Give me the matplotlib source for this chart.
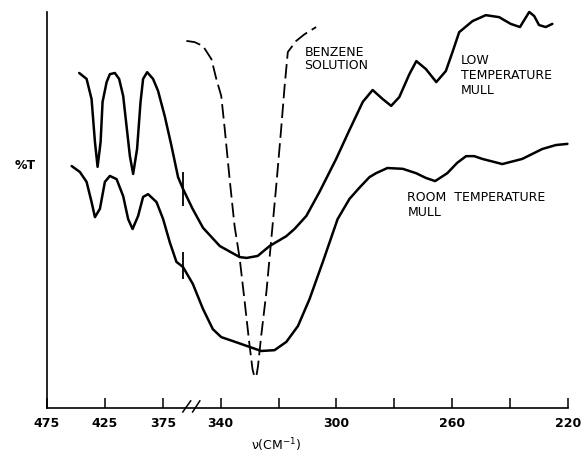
import numpy as np
import matplotlib
matplotlib.use("Agg")
import matplotlib.pyplot as plt
import matplotlib.transforms as mtransforms

# --- data (wavenumber cm^-1, %T in arbitrary 0-100 units) ---
low_w = [447.2, 440.8, 436.5, 433.6, 431.3, 428.7, 427, 423.5, 420.7, 416.4,
         412.7, 409.2, 406.3, 403.4, 400.6, 397.2, 394.2, 392, 388.5, 383.4,
         379.1, 373.3, 367.5, 361.8, 357.5, 349.7, 346.1, 340.3, 333.4, 331,
         327.2, 323.1, 317.3, 314.5, 310.4, 305.9, 300.1, 295.5, 290.9, 287.5,
         284, 281.1, 278.3, 274.8, 272.4, 269.1, 265.5, 262.2, 259.9, 257.6,
         253, 248.4, 243.8, 239.8, 236.6, 233.4, 231.7, 230, 227.7, 225.4]
low_t = [84.6, 83.1, 78, 67.2, 60.9, 67.2, 77.3, 82.3, 84.3, 84.6,
         83.1, 78.8, 71.2, 63.6, 59.1, 65.4, 77.3, 83.1, 84.8, 83.1,
         80.1, 73.7, 66.2, 58.3, 55.3, 50.3, 45.5, 40.9, 38.1, 37.9,
         38.4, 40.9, 43.4, 45.2, 48.5, 54.5, 62.9, 70.2, 77.3, 80.3,
         78, 76.3, 78.5, 84.3, 87.6, 85.6, 82.3, 85.1, 89.9, 94.9,
         97.7, 99.2, 98.7, 97, 96.2, 100, 99, 96.7, 96.2, 97]

room_w = [453.7, 446.6, 440.8, 436.5, 433.6, 429.3, 425, 420.7, 414.9, 409.2,
          404.9, 401.1, 396.3, 392, 387.7, 380.4, 374.7, 369, 363.2, 357.5,
          349.6, 346.1, 342.7, 339.8, 335.8, 331.1, 326, 321.4, 317.3, 313.3,
          309.3, 304.7, 299.6, 295.5, 292.1, 288.6, 286.3, 282.4, 277.1, 272.5,
          269.1, 265.9, 261.7, 258.3, 255.2, 252.4, 249.6, 242.7, 235.8, 228.9,
          224.2, 220.2]
room_t = [61.1, 59.6, 57.1, 52, 48.2, 50.3, 57.1, 58.6, 57.8, 53.5,
          47.7, 45.2, 48.5, 53.3, 54, 52, 47.7, 41.9, 36.9, 35.6,
          31.3, 25, 19.9, 17.9, 16.9, 15.7, 14.4, 14.6, 16.7, 20.7,
          27.5, 36.9, 47.7, 52.8, 55.6, 58.3, 59.3, 60.6, 60.4, 59.3,
          58.1, 57.3, 59.3, 61.9, 63.6, 63.6, 62.9, 61.6, 62.9, 65.4,
          66.4, 66.7]

benz_w = [354.6, 349, 346.1, 343.2, 341.5, 339.8, 338.6, 336.9, 335.2, 333.4,
          331.7, 330, 329, 328.3, 327.6, 327.1, 326, 324.2, 322.5, 320.8,
          319.1, 317.9, 316.8, 313.9, 311, 307]
benz_t = [92.7, 92.4, 91.4, 88.1, 83.1, 78.8, 70.5, 57.8, 46, 37.6,
          26.8, 15.7, 9.8, 7.8, 8.3, 10.6, 18.2, 29.3, 42.7, 56.1,
          70.5, 81.3, 89.9, 92.7, 94.4, 96.2]

# break marks drawn across the two mull curves
break_w = 357.5
break_lo = [51.0, 32.6]
break_hi = [59.6, 39.3]

major_ticks = [475, 425, 375, 340, 300, 260, 220]
minor_ticks = [320, 280, 240]


# piecewise axis: 475-350 compressed, 350-220 expanded (broken axis)
def forward(w):
    w = np.asarray(w, float)
    return -np.where(w >= 350, (475 - w) * 1.16, 145 + (350 - w) * 2.9)


def inverse(p):
    p = -np.asarray(p, float)
    return np.where(p <= 145, 475 - p / 1.16, 350 - (p - 145) / 2.9)


plt.rcParams['font.family'] = ['DejaVu Sans']

fig = plt.figure(figsize=(5.81, 4.52), dpi=100)
ax = fig.add_axes([47 / 581, 43 / 452, 521 / 581, 396 / 452])
ax.set_xscale('function', functions=(forward, inverse))
ax.set_xlim(475, 220)
ax.set_ylim(0, 100)

ax.plot(low_w, low_t, color='black', lw=1.8, clip_on=False,
        solid_joinstyle='round', solid_capstyle='round')
ax.plot(room_w, room_t, color='black', lw=1.8, clip_on=False,
        solid_joinstyle='round', solid_capstyle='round')
ax.plot(benz_w, benz_t, color='black', lw=1.3, dashes=(8, 3), clip_on=False)
ax.vlines([break_w, break_w], break_lo, break_hi, color='black', lw=1.3)

# axis break slashes
trans = mtransforms.blended_transform_factory(ax.transData, ax.transAxes)
for w0, w1 in [(357.7, 350.9), (349.7, 347.2)]:
    ax.plot([w0, w1], [-0.01, 0.018], color='black', lw=1.1,
            transform=trans, clip_on=False)

for s in ['top', 'right']:
    ax.spines[s].set_visible(False)
for s in ['left', 'bottom']:
    ax.spines[s].set_linewidth(1.2)

ax.set_yticks([])
ax.set_xticks(major_ticks)
ax.set_xticklabels([str(t) for t in major_ticks], fontsize=9, fontweight='bold')
ax.set_xticks(minor_ticks, minor=True)
ax.tick_params(axis='x', which='both', direction='in', length=7, width=1.1, pad=6)

ax.set_xlabel('ν(CM$^{-1}$)', fontsize=9)
ax.xaxis.set_label_coords(0.44, -0.068)

ax.text(-0.022, 0.616, '%T', transform=ax.transAxes, fontsize=9,
        fontweight='bold', ha='right', va='center')

ax.text(311, 88.4, 'BENZENE\nSOLUTION', fontsize=9, ha='left', va='center',
        linespacing=1.05)
ax.text(257, 84.3, 'LOW\nTEMPERATURE\nMULL', fontsize=9, ha='left',
        va='center', linespacing=1.2)
ax.text(275.5, 51.5, 'ROOM  TEMPERATURE\nMULL', fontsize=9, ha='left',
        va='center', linespacing=1.15)

fig.savefig('out.png', dpi=100)
